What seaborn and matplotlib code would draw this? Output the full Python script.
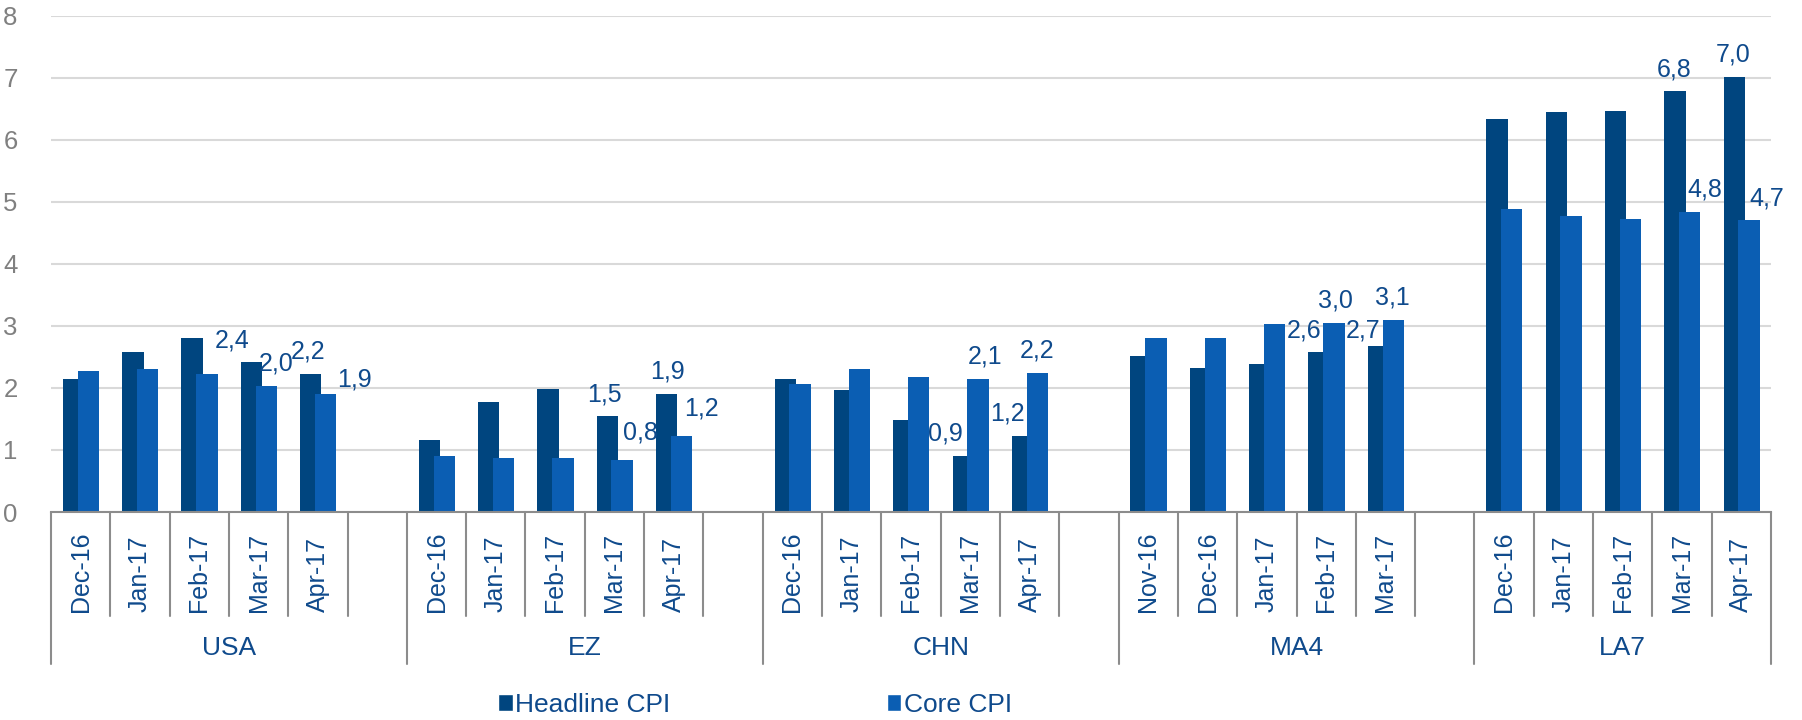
import matplotlib

matplotlib.use("Agg")
import matplotlib.pyplot as plt
import matplotlib.transforms as mtransforms
from matplotlib.patches import Patch
import pandas as pd
import seaborn as sns

# ---- data ----
groups = ["USA", "EZ", "CHN", "MA4", "LA7"]
months_usa = ["Dec-16", "Jan-17", "Feb-17", "Mar-17", "Apr-17"]
months_ez = ["Dec-16", "Jan-17", "Feb-17", "Mar-17", "Apr-17"]
months_chn = ["Dec-16", "Jan-17", "Feb-17", "Mar-17", "Apr-17"]
months_ma4 = ["Nov-16", "Dec-16", "Jan-17", "Feb-17", "Mar-17"]
months_la7 = ["Dec-16", "Jan-17", "Feb-17", "Mar-17", "Apr-17"]

headline_usa = [2.14, 2.58, 2.81, 2.42, 2.23]
headline_ez = [1.16, 1.78, 1.99, 1.54, 1.91]
headline_chn = [2.14, 1.97, 1.49, 0.91, 1.23]
headline_ma4 = [2.51, 2.32, 2.39, 2.58, 2.68]
headline_la7 = [6.34, 6.44, 6.47, 6.79, 7.01]

core_usa = [2.27, 2.30, 2.23, 2.03, 1.91]
core_ez = [0.90, 0.87, 0.87, 0.84, 1.23]
core_chn = [2.07, 2.30, 2.17, 2.14, 2.24]
core_ma4 = [2.81, 2.81, 3.03, 3.04, 3.09]
core_la7 = [4.89, 4.77, 4.73, 4.84, 4.70]

y_ticks = [0, 1, 2, 3, 4, 5, 6, 7, 8]

# label placement for the last two months of each group:
# (x offset from slot centre, y offset above bar top) for headline and core
label_offsets_headline = {
    "USA": [(-0.44, 0.34), (-0.17, 0.35)],
    "EZ": [(-0.17, 0.35), (-0.11, 0.36)],
    "CHN": [(-0.42, 0.35), (-0.37, 0.35)],
    "MA4": [(-0.37, 0.35), (-0.38, 0.24)],
    "LA7": [(-0.14, 0.35), (-0.14, 0.36)],
}
label_offsets_core = {
    "USA": [(0.30, 0.37), (0.62, 0.22)],
    "EZ": [(0.43, 0.44), (0.47, 0.44)],
    "CHN": [(0.25, 0.36), (0.13, 0.36)],
    "MA4": [(0.15, 0.37), (0.12, 0.37)],
    "LA7": [(0.39, 0.36), (0.42, 0.36)],
}

HEADLINE_COLOR = "#00457F"
CORE_COLOR = "#0B5EB3"
TEXT_BLUE = "#0F4A8C"
GREY = "#808080"
LINE_GREY = "#8C8C8C"

W, H = 1802, 720
SLOTS_PER_GROUP = 6
OFFSET_H = -0.12
OFFSET_C = 0.13
BAR_W = 0.36


def fig_y(px):
    return 1 - px / H


months = [months_usa, months_ez, months_chn, months_ma4, months_la7]
headline = [headline_usa, headline_ez, headline_chn, headline_ma4, headline_la7]
core = [core_usa, core_ez, core_chn, core_ma4, core_la7]

rows = []
for g, name in enumerate(groups):
    for i, m in enumerate(months[g]):
        slot = g * SLOTS_PER_GROUP + i
        rows.append({"group": name, "month": m, "slot": slot,
                     "headline": headline[g][i], "core": core[g][i]})
df = pd.DataFrame(rows)
n_slots = (len(groups) - 1) * SLOTS_PER_GROUP + len(months[-1])

sns.set_style("white")
plt.rcParams["font.family"] = ["Liberation Sans", "DejaVu Sans"]

fig = plt.figure(figsize=(W / 100, H / 100), dpi=100)
ax = fig.add_axes([51 / W, fig_y(512), 1720 / W, (512 - 15.7) / H])

sns.barplot(x=df["slot"] + OFFSET_H, y=df["headline"], native_scale=True,
            width=BAR_W, color=HEADLINE_COLOR, saturation=1, errorbar=None,
            linewidth=0, ax=ax, zorder=2)
sns.barplot(x=df["slot"] + OFFSET_C, y=df["core"], native_scale=True,
            width=BAR_W, color=CORE_COLOR, saturation=1, errorbar=None,
            linewidth=0, ax=ax, zorder=3)

ax.set_xlim(-0.5, n_slots - 0.5)
ax.set_ylim(0, 8)
ax.set_yticks(y_ticks)
ax.set_xticks([])
ax.set_xlabel("")
ax.set_ylabel("")
ax.yaxis.grid(True, color="#D9D9D9", linewidth=1.5)
ax.set_axisbelow(True)
for side in ["top", "right", "left"]:
    ax.spines[side].set_visible(False)
ax.spines["bottom"].set_color(LINE_GREY)
ax.spines["bottom"].set_linewidth(1.5)
ax.spines["bottom"].set_zorder(4)
ax.tick_params(axis="y", length=0, pad=24, labelsize=18.5, labelcolor=GREY)

# data labels
for g, name in enumerate(groups):
    for k, i in enumerate([3, 4]):
        slot = g * SLOTS_PER_GROUP + i
        for vals, offs in [(headline[g], label_offsets_headline[name]),
                           (core[g], label_offsets_core[name])]:
            dx, dy = offs[k]
            v = vals[i]
            ax.text(slot + dx, v + dy, f"{v:.1f}".replace(".", ","),
                    ha="center", va="center", fontsize=18, color=TEXT_BLUE,
                    zorder=5)

# multi-level category axis
trans = mtransforms.blended_transform_factory(ax.transData, fig.transFigure)
for g, name in enumerate(groups):
    start = g * SLOTS_PER_GROUP
    n = SLOTS_PER_GROUP if g < len(groups) - 1 else len(months[g])
    for i in range(n):
        if i < len(months[g]):
            ax.text(start + i, fig_y(612), months[g][i], transform=trans,
                    rotation=90, ha="center", va="bottom", fontsize=18,
                    color=TEXT_BLUE)
        if i > 0:
            ax.plot([start + i - 0.5] * 2, [fig_y(512), fig_y(616)],
                    transform=trans, color=LINE_GREY, lw=1.5, clip_on=False)
    ax.plot([start - 0.5] * 2, [fig_y(512), fig_y(664)], transform=trans,
            color=LINE_GREY, lw=1.5, clip_on=False)
    ax.text(start + (n - 1) / 2, fig_y(648), name, transform=trans,
            ha="center", va="center", fontsize=19, color=TEXT_BLUE)
ax.plot([n_slots - 0.5] * 2, [fig_y(512), fig_y(664)], transform=trans,
        color=LINE_GREY, lw=1.5, clip_on=False)

handles = [Patch(facecolor=HEADLINE_COLOR, label="Headline CPI"),
           Patch(facecolor=CORE_COLOR, label="Core CPI")]
fig.legend(handles=handles, loc="center left",
           bbox_to_anchor=(498 / W, fig_y(705)), ncol=2, frameon=False,
           fontsize=19, handlelength=0.55, handleheight=0.6,
           handletextpad=0.1, columnspacing=8.2, borderpad=0,
           borderaxespad=0, labelcolor=TEXT_BLUE)

fig.savefig("out.png", dpi=100)
